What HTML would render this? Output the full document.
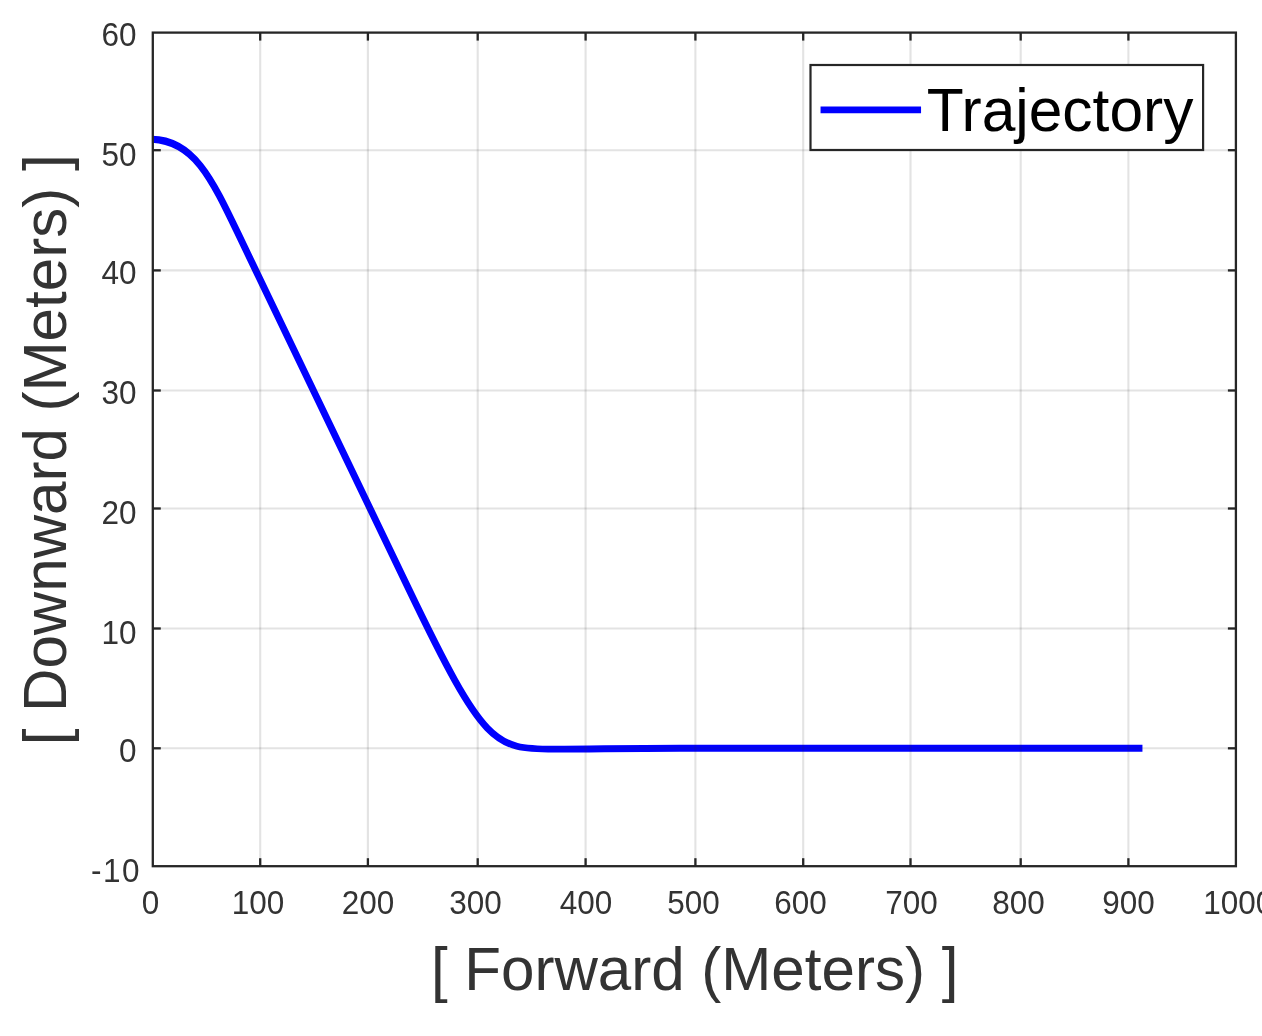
<!DOCTYPE html>
<html><head><meta charset="utf-8"><style>
html,body{margin:0;padding:0;background:#fff;}
body{width:1262px;height:1036px;overflow:hidden;}
svg{display:block;will-change:transform;}
</style></head><body>
<svg width="1262" height="1036" viewBox="0 0 1262 1036">
<rect x="0" y="0" width="1262" height="1036" fill="#fff"/>
<g>
<rect x="0" y="0" width="1262" height="1036" fill="#fff"/>

<g stroke="#262626" stroke-width="2.3"><line x1="260.2" y1="866.2" x2="260.2" y2="858.2"/><line x1="260.2" y1="32.6" x2="260.2" y2="40.6"/><line x1="367.9" y1="866.2" x2="367.9" y2="858.2"/><line x1="367.9" y1="32.6" x2="367.9" y2="40.6"/><line x1="477.7" y1="866.2" x2="477.7" y2="858.2"/><line x1="477.7" y1="32.6" x2="477.7" y2="40.6"/><line x1="585.6" y1="866.2" x2="585.6" y2="858.2"/><line x1="585.6" y1="32.6" x2="585.6" y2="40.6"/><line x1="695.4" y1="866.2" x2="695.4" y2="858.2"/><line x1="695.4" y1="32.6" x2="695.4" y2="40.6"/><line x1="803.2" y1="866.2" x2="803.2" y2="858.2"/><line x1="803.2" y1="32.6" x2="803.2" y2="40.6"/><line x1="910.5" y1="866.2" x2="910.5" y2="858.2"/><line x1="910.5" y1="32.6" x2="910.5" y2="40.6"/><line x1="1020.7" y1="866.2" x2="1020.7" y2="858.2"/><line x1="1020.7" y1="32.6" x2="1020.7" y2="40.6"/><line x1="1128.4" y1="866.2" x2="1128.4" y2="858.2"/><line x1="1128.4" y1="32.6" x2="1128.4" y2="40.6"/><line x1="152.8" y1="150.2" x2="160.8" y2="150.2"/><line x1="1235.9" y1="150.2" x2="1227.9" y2="150.2"/><line x1="152.8" y1="270.4" x2="160.8" y2="270.4"/><line x1="1235.9" y1="270.4" x2="1227.9" y2="270.4"/><line x1="152.8" y1="390.5" x2="160.8" y2="390.5"/><line x1="1235.9" y1="390.5" x2="1227.9" y2="390.5"/><line x1="152.8" y1="508.5" x2="160.8" y2="508.5"/><line x1="1235.9" y1="508.5" x2="1227.9" y2="508.5"/><line x1="152.8" y1="628.5" x2="160.8" y2="628.5"/><line x1="1235.9" y1="628.5" x2="1227.9" y2="628.5"/><line x1="152.8" y1="748.3" x2="160.8" y2="748.3"/><line x1="1235.9" y1="748.3" x2="1227.9" y2="748.3"/></g>
<clipPath id="ax"><rect x="152.8" y="32.6" width="1083.1" height="833.6"/></clipPath>
<path clip-path="url(#ax)" d="M151.40,139.16 C194.27,139.16 212.92,181.20 240.34,238.30 L408.73,589.06 C484.20,746.27 494.16,749.15 554.59,749.15 C594.59,749.15 620.00,748.2 680,748.2 L1139,748.2" fill="none" stroke="#0000ff" stroke-width="6.9" stroke-linecap="square" stroke-linejoin="round"/>
<g stroke="#262626" stroke-opacity="0.13" stroke-width="2.1"><line x1="260.2" y1="32.6" x2="260.2" y2="866.2"/><line x1="367.9" y1="32.6" x2="367.9" y2="866.2"/><line x1="477.7" y1="32.6" x2="477.7" y2="866.2"/><line x1="585.6" y1="32.6" x2="585.6" y2="866.2"/><line x1="695.4" y1="32.6" x2="695.4" y2="866.2"/><line x1="803.2" y1="32.6" x2="803.2" y2="866.2"/><line x1="910.5" y1="32.6" x2="910.5" y2="866.2"/><line x1="1020.7" y1="32.6" x2="1020.7" y2="866.2"/><line x1="1128.4" y1="32.6" x2="1128.4" y2="866.2"/><line x1="152.8" y1="150.2" x2="1235.9" y2="150.2"/><line x1="152.8" y1="270.4" x2="1235.9" y2="270.4"/><line x1="152.8" y1="390.5" x2="1235.9" y2="390.5"/><line x1="152.8" y1="508.5" x2="1235.9" y2="508.5"/><line x1="152.8" y1="628.5" x2="1235.9" y2="628.5"/><line x1="152.8" y1="748.3" x2="1235.9" y2="748.3"/></g>
<rect x="152.8" y="32.6" width="1083.1" height="833.6" fill="none" stroke="#262626" stroke-width="2.3"/>
<g font-family='"Liberation Sans", sans-serif' font-size="31.5" fill="#333333"><text transform="translate(150.6,914.2) scale(1,1.07)" text-anchor="middle">0</text><text transform="translate(257.9,914.2) scale(1,1.07)" text-anchor="middle">100</text><text transform="translate(368.0,914.2) scale(1,1.07)" text-anchor="middle">200</text><text transform="translate(475.6,914.2) scale(1,1.07)" text-anchor="middle">300</text><text transform="translate(586.0,914.2) scale(1,1.07)" text-anchor="middle">400</text><text transform="translate(693.4,914.2) scale(1,1.07)" text-anchor="middle">500</text><text transform="translate(800.5,914.2) scale(1,1.07)" text-anchor="middle">600</text><text transform="translate(911.5,914.2) scale(1,1.07)" text-anchor="middle">700</text><text transform="translate(1018.5,914.2) scale(1,1.07)" text-anchor="middle">800</text><text transform="translate(1128.4,914.2) scale(1,1.07)" text-anchor="middle">900</text><text transform="translate(1238.2,914.2) scale(1,1.07)" text-anchor="middle">1000</text><text transform="translate(136.6,45.9) scale(1,1.07)" text-anchor="end">60</text><text transform="translate(136.6,166.3) scale(1,1.07)" text-anchor="end">50</text><text transform="translate(136.6,284.0) scale(1,1.07)" text-anchor="end">40</text><text transform="translate(136.6,404.0) scale(1,1.07)" text-anchor="end">30</text><text transform="translate(136.6,523.6) scale(1,1.07)" text-anchor="end">20</text><text transform="translate(136.6,644.0) scale(1,1.07)" text-anchor="end">10</text><text transform="translate(136.6,762.4) scale(1,1.07)" text-anchor="end">0</text><text transform="translate(139.6,882.2) scale(1,1.07)" text-anchor="end" textLength="48.5" lengthAdjust="spacing">-10</text></g>
<text font-family='"Liberation Sans", sans-serif' font-size="60.1" fill="#333333" transform="translate(694.6,990.2) scale(1,1.02)" text-anchor="middle">[ Forward (Meters) ]</text>
<text font-family='"Liberation Sans", sans-serif' font-size="60.1" fill="#333333" transform="translate(66.4,449.9) rotate(-90) scale(1,1.02)" text-anchor="middle">[ Downward (Meters) ]</text>
<rect x="810.5" y="65" width="392.6" height="85" fill="#fff" stroke="#262626" stroke-width="2.2"/>
<line x1="824.0" y1="109.9" x2="917.6" y2="109.9" stroke="#0000ff" stroke-width="6.9" stroke-linecap="square"/>
<text font-family='"Liberation Sans", sans-serif' font-size="60.5" fill="#000" transform="translate(926.8,131) scale(1,1.02)">Trajectory</text>
</g></svg></body></html>
